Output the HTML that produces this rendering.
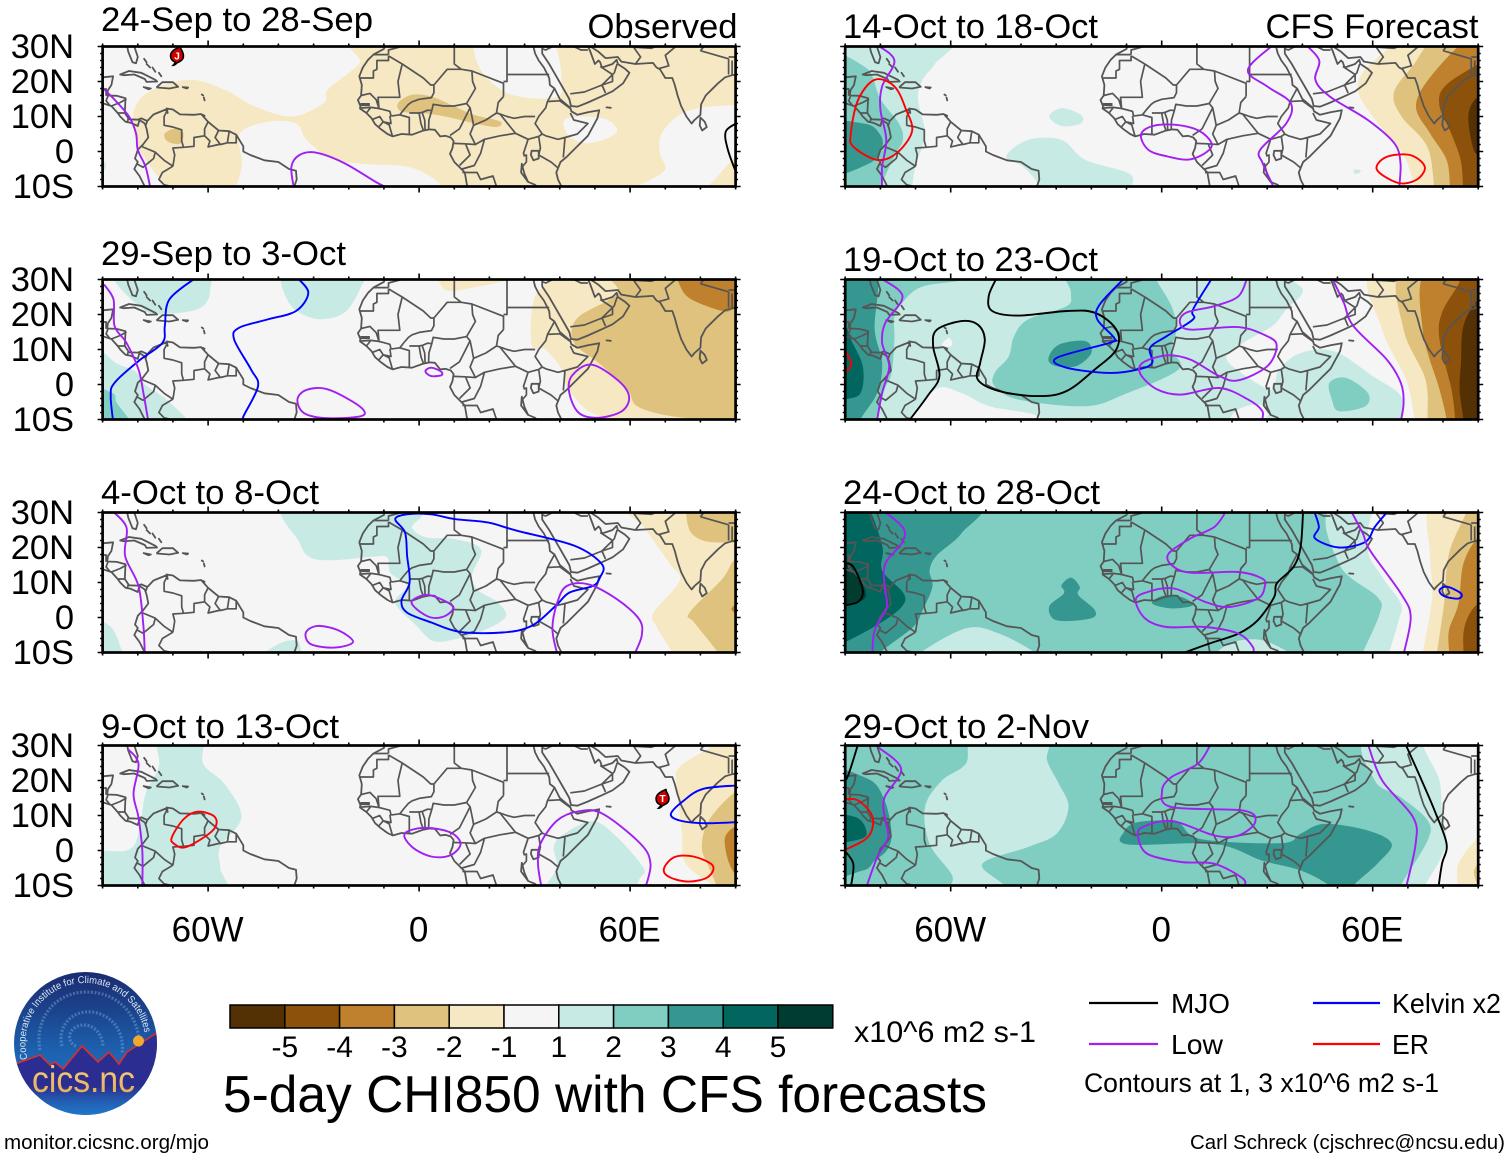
<!DOCTYPE html>
<html lang="en">
<head>
<meta charset="utf-8">
<title>5-day CHI850 with CFS forecasts</title>
<style>
html,body{margin:0;padding:0;background:#fff;}
svg{display:block;font-family:"Liberation Sans",Arial,sans-serif;}
</style>
</head>
<body>
<svg id="chart" xmlns="http://www.w3.org/2000/svg" width="1510" height="1159" viewBox="0 0 1510 1159">
  <rect x="0" y="0" width="1510" height="1159" fill="#ffffff"/>
  <g id="panels"></g>
  <g id="colorbar"></g>

  <text x="854" y="1042" font-size="30" textLength="182" lengthAdjust="spacingAndGlyphs">x10^6 m2 s-1</text>
  <text x="223" y="1112" font-size="52" textLength="764" lengthAdjust="spacingAndGlyphs">5-day CHI850 with CFS forecasts</text>

  <g>
    <line x1="1089" x2="1158" y1="1003" y2="1003" stroke="#000000" stroke-width="2.2"/>
    <text x="1171" y="1013" font-size="28" textLength="59" lengthAdjust="spacingAndGlyphs">MJO</text>
    <line x1="1313" x2="1380" y1="1003" y2="1003" stroke="#0000ff" stroke-width="2.2"/>
    <text x="1392" y="1013" font-size="28" textLength="109" lengthAdjust="spacingAndGlyphs">Kelvin x2</text>
    <line x1="1089" x2="1158" y1="1044" y2="1044" stroke="#a020f0" stroke-width="2.2"/>
    <text x="1171" y="1054" font-size="28" textLength="52" lengthAdjust="spacingAndGlyphs">Low</text>
    <line x1="1313" x2="1380" y1="1044" y2="1044" stroke="#ff0000" stroke-width="2.2"/>
    <text x="1392" y="1054" font-size="28" textLength="37" lengthAdjust="spacingAndGlyphs">ER</text>
    <text x="1084" y="1092" font-size="27" textLength="355" lengthAdjust="spacingAndGlyphs">Contours at 1, 3 x10^6 m2 s-1</text>
  </g>

  <text x="4" y="1149" font-size="20.5" textLength="205" lengthAdjust="spacingAndGlyphs">monitor.cicsnc.org/mjo</text>
  <text x="1190" y="1149" font-size="20.5" textLength="315" lengthAdjust="spacingAndGlyphs">Carl Schreck (cjschrec@ncsu.edu)</text>

  <g>
    <defs>
      <linearGradient id="logoSky" x1="0" y1="0" x2="0" y2="1">
        <stop offset="0" stop-color="#1b2a6e"/>
        <stop offset="0.3" stop-color="#1c4690"/>
        <stop offset="0.55" stop-color="#1d62b0"/>
        <stop offset="1" stop-color="#1f7fd0"/>
      </linearGradient>
      <linearGradient id="logoLand" x1="0" y1="0" x2="0" y2="1">
        <stop offset="0" stop-color="#2b2e90"/>
        <stop offset="0.62" stop-color="#2b2e90"/>
        <stop offset="0.8" stop-color="#2360b4"/>
        <stop offset="1" stop-color="#1f7fd0"/>
      </linearGradient>
      <linearGradient id="logoWord" x1="0" y1="0" x2="0" y2="1">
        <stop offset="0" stop-color="#f4d484"/>
        <stop offset="1" stop-color="#e8a850"/>
      </linearGradient>
      <clipPath id="logoClip"><circle cx="85.5" cy="1043.5" r="71.5"/></clipPath>
      <path id="logoArc" d="M 27.6 1059 A 60 60 0 1 1 144.7 1033.7"/>
    </defs>
    <g clip-path="url(#logoClip)">
      <rect x="10" y="970" width="150" height="150" fill="url(#logoSky)"/>
      <path d="M76 1046c-8-3-9-14 0-19 11-6 26 2 27 19M62 1046c-5-20 10-36 30-34 22 3 33 22 30 42M40 1050c-6-30 14-58 47-58 30 0 50 22 52 48" fill="none" stroke="#7fb2e2" stroke-width="3.2" stroke-dasharray="2 1.6" opacity="0.42"/>
      <polygon points="10,1066 18,1063 40,1055 50,1065 55,1062 63,1069 82,1046 98,1062 109,1052 119,1064 127,1052 155,1034 162,1030 162,1120 10,1120" fill="url(#logoLand)"/>
      <polyline points="10,1066 18,1063 40,1055 50,1065 55,1062 63,1069 82,1046 98,1062 109,1052 119,1064 127,1052 155,1034 162,1030" fill="none" stroke="#d9302c" stroke-width="1.6"/>
      <circle cx="138.5" cy="1041" r="5.5" fill="#f0a830"/>
    </g>
    <text font-size="10" fill="#d8e8f4"><textPath href="#logoArc" textLength="194" lengthAdjust="spacingAndGlyphs">Cooperative Institute for Climate and Satellites</textPath></text>
    <text x="32" y="1092" font-size="37" fill="url(#logoWord)" textLength="103" lengthAdjust="spacingAndGlyphs">cics.nc</text>
  </g>

<script>
/* ---------- axis configuration ---------- */
const lonRange = [-90, 90];
const latRange = [-10, 30];
const xTicks = [-60, 0, 60];
const xTickLabels = ['60W', '0', '60E'];
const yTicks = [30, 20, 10, 0, -10];
const yTickLabels = ['30N', '20N', '10N', '0', '10S'];

/* ---------- colour bar ---------- */
const barLevels = [-5, -4, -3, -2, -1, 0, 1, 2, 3, 4, 5];
const barColors = ['#543005', '#8c510a', '#bf812d', '#dfc27d', '#f6e8c3', '#f5f5f5', '#c7eae5', '#80cdc1', '#35978f', '#01665e', '#003c30'];
const barTickLabels = ['-5', '-4', '-3', '-2', '-1', '1', '2', '3', '4', '5'];

/* ---------- line colours by wave type ---------- */
const waveColors = { mjo: '#000000', kelvin: '#0000ff', low: '#a020f0', er: '#ff0000' };

/* ---------- geography (lon,lat pairs) ---------- */
const coastlines = [
  [-83,30,-82.7,28.5,-81.5,25.5,-80.5,25.2,-80,27,-81,30],
  [-85,22,-82.5,23,-79,22.5,-75,20.5,-74.5,20,-77.5,19.9,-78,20.7,-81,22,-84,21.8,-85,22],
  [-74.5,18.5,-73,19.8,-70,19.8,-68.5,18.5,-71,18,-74.5,18.3,-74.5,18.5],
  [-78.3,18.4,-76.3,18,-77,17.8,-78.3,18.4],
  [-67.2,18.4,-65.7,18.3,-66,18,-67.2,18.4],
  [-78.2,26.5,-77.5,25.5],[-77.5,25,-76.5,24],[-75.8,24,-75,22.8],[-74,22.5,-73.3,21.5],
  [-61.8,16.3,-61.4,16],[-61.2,15.4,-61,14.6],[-61.5,10.5,-61,10.2],
  [-90,21.2,-87,21.5,-87.5,19,-88.5,17.5,-88.7,16,-86,15.9,-83.5,15.2,-83.7,11,-82.5,9.2,-80,9.1,-79,9.5,-77.3,8.7,-75.5,10.6,-74.5,11,-72,12,-71.5,11,-71.8,12.3,-70,12,-68,10.6,-64,10.5,-62,10.7,-60,8.5,-57,6,-54,5.8,-52,4.8,-50,1.5,-50,0,-48,-1,-44,-2.5,-40,-3,-37,-5,-35,-5.5,-34.8,-8,-35.5,-10],
  [-90,13.8,-87.5,13,-85.7,11,-85,10,-83.5,8.5,-82,8.2,-80,7.3,-79.5,9,-78,8,-77.5,6.5,-77,4,-78.5,2,-80,0.5,-80.8,-2,-80,-3,-81,-5,-79.5,-7,-78.5,-9,-78,-10],
  [-9.8,30,-10,29.3,-13,27.7,-14.5,26.2,-16,24,-17,21.5,-16.3,19,-16.5,16,-17.4,14.7,-16.7,13,-16.8,12.3,-15,11,-13.5,9.5,-12.5,7.8,-11,6.5,-9,5,-7.5,4.3,-5,5,-2,4.8,1,5.9,3,6.3,4.5,6.2,6,4.3,7.5,4.5,9,4,9.8,3,9.5,1,8.8,-0.7,10,-3,12,-5,13,-6,13.5,-9,13.7,-10],
  [32.5,30,33,28,34,26,35.5,24,37,21,37.2,19,38.5,18,40,15,43,12.5,43.3,11.5,45,10.5,48,11.2,51.2,11.8,50.7,9.5,48,4.5,45.5,2,42,-1.5,40.2,-3,39,-6,39.5,-8,40.5,-10],
  [35,29.5,35,28,37,25,39,21.5,41,18,42.7,15,43.2,13,45,12.8,48,14,52,15.8,55,17.2,58,19.5,59.8,22.5,58.5,23.7,56.5,25,56.2,26.2,55,25,52,24,51.5,25.5,51,26,50,25,48.5,29,48,30],
  [48.7,30,51,28.5,53,26.7,56.5,27,57.5,25.7,61.5,25,66.5,25.3,67.5,24,68.5,23.5,70,21,72,21,72.7,19,73.5,16,74.5,13,76,10,77.5,8,78.3,9,80,10.5,80.2,13.5,81.5,16,85,19.5,87,21.2,89,21.8,90,22],
  [80,9.7,81.2,8.5,81.8,7,80.5,6,79.8,7.5,80,9.7],
  [53.3,12.6,54.5,12.5],
  [32,0.2,34,0.2,34,-2,32.5,-2.5,31.8,-1,32,0.2],
  [29.2,-3.5,30,-6.5,31,-8.7,29,-6,29.2,-3.5]
];
const borders = [
  [-87.8,13,-89,14.5,-88.5,15.8],[-85.7,11,-83.7,11],[-83,8.2,-82.7,9.5],[-90,17.8,-89,17.9,-89,15.9],[-87.5,13,-85,14,-83.2,15],[-77.3,8.7,-77.8,7.3],
  [-71.5,12,-72.5,10,-72.5,7.5,-70,7,-67.5,6.2,-67.5,3,-67,1.2],[-67,1.2,-70,1,-69.5,-1,-70,-4.2],[-70,-4.2,-72.5,-2.5,-75,-0.2,-78.8,1.4],[-75,-0.2,-75.5,-2,-78.5,-4.5,-80.3,-3.5],[-70,-4.2,-73,-6,-74,-8,-72.5,-9.5,-70.5,-10],[-67,1.2,-64,1.5,-64,4,-61,4.5],[-60,8.5,-61,6.5,-61,4.5],[-61,4.5,-59.5,3,-60,1.3,-57,2,-56.5,2],[-57,6,-58,4,-56.5,2],[-54,5.8,-54.5,2.5],[-56.5,2,-54.5,2.5,-52,2.5,-52,4.8],
  [-13,27.7,-8.7,27.7],[-8.7,27.7,-8.7,29,-5,30],[-17,21,-13,21,-13,23,-12,23.5,-12,26,-8.7,26,-8.7,27.3],[-8.7,27.3,-4.8,25,1.2,21,3.3,19,4.2,19,4.2,16.8,3.5,15.4,0,14.9,-2,14.2,-3,13.5,-4.3,12,-5.5,10.5,-7.5,10.2,-8,10.2,-8.3,11.5,-11.4,12.3,-11.7,15.5,-9,15.5,-5.5,15.5,-6,20,-4.8,25],
  [-16.5,16,-14,16.6,-12.2,14.8,-11.4,12.3,-13.7,12.6,-16.8,12.4],[-16.7,13.6,-14,13.6],[-16.7,13.2,-14,13.2],[-15,11,-13.7,12.6],[-13.2,9.2,-11.2,10,-10.2,8.5,-8,8,-8.3,10.2],[-11.5,7,-10.2,8.5,-8.5,7.6,-7.6,4.4],[-5.5,10.5,-2.8,9.7,-2.8,5],[-2.8,11,0,11,1,11.2,2.4,11.8,3.6,11.7],[0,11,0.5,8,1.2,6.1],[0.9,11,1.6,9,1.7,6.2],[3.6,11.7,2.8,9,2.7,6.4],
  [4.2,19,8,23.5,12,23.5,15,23,15.2,20,16,18,13.5,13.7,10,13,7,13,4,13.5,3.6,11.7],[12,23.5,10,25,10,30],[15,23,24,19.5,24,15.7],[25,30,25,22],[25,22,37,22],[24,20,25,20,25,22],[24,15.7,22.5,14,22,11,19,9,15.5,7.5,15,10,14.5,12.5,13.5,13.7],[14.5,12.5,13.5,10.5,11.5,6.5,8.8,4.6],[15.5,7.5,14.5,5,16,2,13,2.2,9.8,2.3],[15.5,7.5,19,9,22,11,23,10.7,27.4,5.2,23,4.5,18.6,3.5,16,2],[18.6,3.5,17.5,-0.5,15.7,-4,12.2,-5],[9.8,2.3,13.2,2.2,14.5,-1,11.5,-4],[12.3,-6,16.5,-6,17.5,-8,21,-7,22,-10],
  [27.4,5.2,31,3.5,34,4.3,35,5,33,8,34,10,36,12.5,36.5,14.3,38.5,18],[23,10.7,25,10,27,9.5,30,10,33,10],[36.5,14.3,40,14.5,43,12.3],[43,11,44,9,48,8,45,5,41.5,4],[41.5,4,39.5,3.5,36,4.5,35,5],[41.5,4,41,-1.7],[34,4.3,34.5,1,34,-1],[34,-1,37.5,-3,39.5,-4.7],[31,3.5,29.7,-0.5,30,-1.3],[29.7,-1.3,30.5,-1,30.5,-3,29.2,-4.5],[31,-8.7,33,-9.5,34.5,-11],
  [34.9,29.4,36,29,38,30],[43,16.5,47,17,52,19,55,20,55,22,51.5,24.3],[56.3,25,55.5,22.5,52,19],[52,19,53,16.7],[42,31,46,29,48,29],[61.5,25,63,27,61,29.8],[68.2,23.7,71,24.5,70,27.5,73,30],[80,28.8,88,26.5],[88,26.5,88,22],[81,30,80,28.8],[61,29.8,66,29.5,70,31],[88,27,90,27],[89,21.8,89,26]
];

/* ---------- panel 1: 24-Sep to 28-Sep ---------- */
const panel1Fills = [
  [-1,[-10,33,-17,25,-26,17.6,-27,14,-36,10,-47,13,-55,17.5,-65,20.5,-76,17.5,-81,12,-80.5,3,-77,-3.5,-72,-10,-70,-13,-55,-13,-50.5,-4.5,-51,5,-43,8.5,-35,8,-32,3.3,-25,-2,-16,-3.5,-3.5,-4.3,3,-7,6.5,-10,8,-13,96,-13,96,33]],
  [0,[58,-12,65,-8.5,70,-5,68.5,-0.5,69,5.2,75,11,85,13,96,12,96,2,90,-1.5,81.5,-10.5,75,-14]],
  [0,[17.5,33,17,24.3,25,16.7,37.3,15.2,40.6,18.6,36.5,33]],
  [0,[42,9.5,52.3,9.5,56.3,6.2,53.6,3.8,47,2.4,42,5.2]],
  [1,[-91,-2,-89,-4,-91,-7]],
  [-2,[-6,13.8,-2,16.2,3.5,15.7,10,12.9,15.5,10.5,23,8.6,22,7,15.5,8.1,7.5,10,0.7,11,-5,11.4]],
  [-2,[-72.3,5.2,-69,6.7,-67,5.2,-68,2.2,-71.6,2.9]]
];
const panel1Lines = [
  ['low',[-89.6,17.8,-86.6,14.8,-82.5,10,-80.5,5.2,-80,0.5,-77.8,-4.3,-76.4,-10.5],0],
  ['low',[-35.6,-10.5,-36.3,-4.3,-34,-1,-29.4,-0.3,-21.3,-3.3,-11.8,-9,-8.4,-10.5],0],
  ['mjo',[90.5,8.2,87.2,5.7,87.8,0.5,90.5,-7],0]
];
const panel1Storms = [['J',-68.85,27.3]];

/* ---------- panel 2: 29-Sep to 3-Oct ---------- */
const panel2Fills = [
  [1,[-87,33,-78.4,21.4,-70.3,20.3,-62,22,-59.4,27,-62,33]],
  [1,[-96,12,-86,6,-81,4,-78,0,-75,-2,-71,-5,-65,-11,-64,-14,-96,-14]],
  [2,[-96,-0.5,-87.3,-2.4,-86,-5.2,-82,-10.5,-80,-14,-96,-14]],
  [1,[-37.6,33,-37,23.3,-29.5,18.8,-21.3,20.5,-16.5,28,-16,33]],
  [-1,[7.2,33,7.5,27,17,28,25,30,27,33]],
  [-1,[37,33,36.5,29.5,32.5,23.8,32,11.4,35.9,10,40.6,4.3,42,-0.5,47.4,-7.1,53.5,-10,58,-14,96,-14,96,33]],
  [-2,[56,33,56.5,26,45,19,44,12,51,6.2,59.2,-1.4,62,-6.2,71.4,-9,85,-10.5,96,-14,96,33]],
  [-3,[72,33,73.4,30,76.7,24.8,86.2,21,90,21.6,96,22,96,33]]
];
const panel2Lines = [
  ['kelvin',[-63.5,30.5,-71,24.3,-72.3,16.7,-73,11.9,-79.8,6.7,-86.6,0.5,-87.7,-3.3,-87,-10.5],0],
  ['kelvin',[-34.6,30.5,-31.5,26.2,-35,21,-43,18.6,-51.2,16.2,-52.6,12.9,-47.8,4.3,-45.8,-0.5,-49.9,-9,-50,-10.5],0],
  ['low',[-89.6,28.6,-86.9,24.3,-86.6,16.7,-83.2,11.9,-79.8,4.3,-78.4,-2.4,-77,-10.5],0],
  ['low',[-34.6,-4.3,-32.2,-1.6,-26.7,-1.2,-19.9,-4.3,-15.6,-7.6,-17.2,-9.2,-26.7,-9.6,-32.8,-8.1],1],
  ['low',[1.8,3.8,3.4,4.8,6.1,3.8,6.4,2.7,3.4,2.4],1],
  ['low',[42.7,-2.4,43.4,2.4,48.8,5.7,56.3,1.4,59.7,-3.3,57.7,-7.6,50.8,-9.5,45.4,-8.1],1]
];
const panel2Storms = [];

/* ---------- panel 3: 4-Oct to 8-Oct ---------- */
const panel3Fills = [
  [1,[-37.5,33,-34,21.4,-30.8,17.1,-24,16.4,-13,17.4,-9,17.1,-8.2,12.8,-3.5,9,-6.8,4.2,-0.7,-2.4,4,-6.7,10.2,-6.2,17,-4.3,24.5,0,22.4,4.3,17,7.6,15,11.9,17.6,19.5,10.2,22.4,2,22.9,-2,25.7,0.7,29,0.7,33]],
  [1,[-96,-0.5,-88,-2.4,-84.5,-9.5,-83,-14,-96,-14]],
  [1,[-44,-11,-40,-7.6,-36,-6.5,-34,-7.6,-34.5,-12]],
  [-1,[59,33,64,25.7,71.4,15.2,74.1,10.5,66.7,1.4,67.4,-2.4,72,-10,74,-14,96,-14,96,33]],
  [-2,[78.2,33,76.6,25.7,81,21.9,90,21.4,96,21,96,33]],
  [-2,[96,17,90,16.7,86.2,11,76.9,1.4,78.2,-1.4,84.9,-10,86,-14,96,-14]],
  [-3,[91,4.3,88.8,2.4,91,1]]
];
const panel3Lines = [
  ['kelvin',[-6.8,28.1,-3.4,29.5,3.4,29.5,10.2,28.1,19.7,27.1,27.8,24.8,44.2,20.5,52,15.2,51.4,11.4,49.4,9,42.7,7.1,38.8,3.3,32,-2.4,23.7,-4.3,11.6,-4.1,3.4,-1.4,-3.4,1.4,-5,4.8,-2.7,10,-3.4,17.6,-4,24.3],1],
  ['low',[-87.3,30.5,-83.2,25.7,-83.6,17.6,-79.8,9,-78.4,-2.4,-78,-10.5],0],
  ['low',[-2,4.8,2.7,6.4,9.5,3.3,7.5,0.5,3.4,0,-0.7,2.4],1],
  ['low',[-32.2,-4.3,-28.8,-2.4,-22.7,-3.8,-18.8,-7,-24,-8.6,-30.8,-7.6],1],
  ['low',[39.3,-10.5,37.9,-3.3,39.3,4.3,42,9,48.1,9.5,56.3,5.2,62.6,-0.5,63.3,-5.2,61.2,-10.5],0]
];
const panel3Storms = [];

/* ---------- panel 4: 9-Oct to 13-Oct ---------- */
const panel4Fills = [
  [1,[-74,33,-74,24,-77.8,16.2,-79.8,4.8,-83.2,0,-96,-1.1,-96,-14,-57,-14,-56.6,-4.8,-56.6,1,-50.5,9.5,-55.3,19,-61.4,24.8,-62,33]],
  [1,[38.3,1,41.3,4.8,49.5,8.4,56.3,3.8,63.7,-4.8,63,-7.6,58,-12,37,-12,39.3,-4.8]],
  [-1,[83.4,33,83.4,30,74,23.8,73.3,18.1,74.8,4.8,75.3,-2.9,80,-7.6,83.5,-10,85,-14,96,-14,96,33]],
  [-2,[96,17,90,16.7,82.4,8.6,80.4,1,82.4,-4.8,84.5,-10,85,-14,96,-14]],
  [-3,[91,6.2,87,3.8,88.2,-3.8,91,-6.7]]
];
const panel4Lines = [
  ['low',[-82.8,29,-79.8,24.8,-81.2,16.2,-79.8,9.5,-78.7,0,-78.7,-10.5],0],
  ['low',[-4.1,4.8,1.4,6.5,8.8,5.2,11.8,1.9,8.8,-1.4,3.4,-1.7,-2,1],1],
  ['low',[34.8,-10.5,33.8,-3.8,34.5,1.9,39.3,8.6,45.4,11.2,52.2,10.5,63,1.9,65.8,-3.8,64.4,-10.5],0],
  ['er',[-70.3,3.8,-66.9,9,-62.8,11.1,-58,9.5,-58.7,5.7,-66.2,1,-69.6,1.9],1],
  ['er',[69.6,-5.2,72.6,-1.9,78,-1.7,83.5,-4.3,82.1,-7.6,76.7,-8.9,71.2,-7.6],1],
  ['kelvin',[90.5,18.6,80.7,17.6,75.3,14.3,71.6,10.5,74,8.6,80.7,7.8,90.5,8.1],0]
];
const panel4Storms = [['T',69.2,14.8]];

/* ---------- panel 5: 14-Oct to 18-Oct ---------- */
const panel5Fills = [
  [1,[-96,33,-60,33,-64.5,25,-68,20.5,-69.3,14.8,-67.3,5,-70,-4,-71,-10,-72,-14,-96,-14]],
  [2,[-96,25,-84.2,24,-80,15,-74.7,8,-73.6,3.3,-76,-1.4,-80,-10,-81,-14,-96,-14]],
  [3,[-96,7.6,-84.3,7.9,-80.2,5,-79.5,1.4,-83,-3.3,-96,-6.7]],
  [1,[-32,10,-28.5,12.4,-23,10.5,-23,8,-28.5,7.3]],
  [1,[-44.2,-1.4,-38,3.3,-28.5,3.3,-21.7,-2.4,-9.4,-6.2,-8.3,-10,-8,-14,-35,-14,-34.7,-10,-39.4,-4.3]],
  [1,[54.8,-5.2,56.6,-5.4,56,-6.2,54.8,-6.2]],
  [-1,[64.7,33,64.7,30,57,22.4,56,16.7,60,10,67,1.4,69.5,-2.4,72,-10,73,-14,96,-14,96,33]],
  [-2,[79,33,71.3,24.3,66,16.7,68.2,10,75.5,1.4,77.5,-10,78,-14,96,-14,96,33]],
  [-3,[88,33,76.5,21.4,72.3,12.9,76.3,5.2,81,-2.4,82,-10,82.5,-14,96,-14,96,33]],
  [-4,[96,28,90,25,80.5,18.6,79,12.9,82.3,5.2,85,-2.4,85.7,-10,86,-14,96,-14]],
  [-5,[96,18,90,15.7,87.3,11,88,3.3,90,-1.4,96,-4]]
];
const panel5Lines = [
  ['low',[-81,30.5,-76,26,-79.5,18.6,-80,12,-78.3,3.3,-79.5,-4.3,-79.5,-10.5],0],
  ['low',[-5.9,4.8,-2.5,7.3,4.3,7.6,11,5.7,14.2,1.4,8.4,-2.2,1.6,-1.4,-3.8,0.5],1],
  ['low',[31.7,30.5,24.5,23.3,30,18.6,36.7,13.8,35.4,8,28,0.5,28.7,-3.3,32,-10.5],0],
  ['low',[41,30.5,44.8,26,43.7,20.5,47.8,15.7,58.6,9,66.1,2.4,67.9,-3.3,67.5,-10.5],0],
  ['er',[-81.6,20.5,-76,18.6,-72.7,12,-71,5.7,-75.4,-0.5,-81,-2.4,-87.7,1.4,-88.4,5.2,-86.3,14.8],1],
  ['er',[61.2,-5.2,63.8,-1.6,70.6,-1,74.8,-4.3,72.6,-8,67.3,-9],1]
];
const panel5Storms = [];

/* ---------- panel 6: 19-Oct to 23-Oct ---------- */
const panel6Fills = [
  [0,[37.5,33,40.2,26.7,35.4,21.4,31.4,16.7,23.2,11.9,18.4,7.6,23.2,2.9,30,-1.2,32,-0.5,33.4,4.3,39.5,9,49,9.5,60,2.4,68,-3.3,68.4,-10.5,68,-14,80,-14,80,33]],
  [0,[-72,-10,-64,-1.2,-57,-2.4,-49,-6.2,-35.3,-9,-34.6,-14,-73,-14]],
  [0,[21.8,-7.1,27.3,-5.7,30.7,-7.6,29.3,-10.5,29,-14,19,-14,19,-10.5]],
  [0,[-62.5,11.4,-60.5,13.3,-59.5,11.4,-61,10.8]],
  [2,[-96,33,-55.7,33,-55.7,30,-68,28,-73.4,23.8,-76,19.5,-76,12.9,-76.8,3.3,-78.8,-1.4,-81,-10,-82,-14,-96,-14]],
  [2,[-25.8,33,-25.8,26.2,-27,22.4,-38,18.6,-42,13.8,-43.5,8,-47.5,3.3,-47.5,-0.5,-40.7,-4.3,-21.7,-6.2,-10.8,-2.9,4.8,4.3,2.8,10,4.2,15.7,2.8,22.4,-1.5,30,-1.5,33]],
  [2,[47.7,0.5,52.4,1.9,58.6,-2.4,57.9,-6.2,50.4,-7.6,48.4,-4.3]],
  [3,[-96,33,-81.6,33,-81.6,15.7,-79.5,6.2,-80.9,-2.4,-85.6,-10,-86,-14,-96,-14]],
  [4,[-96,20,-90,16.7,-88.4,12.9,-85,5.2,-85.6,-2.4,-90,-4.3,-96,-6]],
  [3,[-32.2,7.6,-29.2,11.4,-21.7,12.4,-20,9,-24.4,5.2,-30.5,5.4]],
  [-1,[60.6,33,62.7,15.7,69.5,1.4,72,-10,73,-14,96,-14,96,33]],
  [-2,[68.8,33,68.8,15.7,75,1.4,75.6,-10,76,-14,96,-14,96,33]],
  [-3,[75.6,33,74.2,15.7,79,-1.4,81,-10,81,-14,96,-14,96,33]],
  [-4,[86,33,84.4,28.6,79.7,20.5,79,12.9,82.4,-1.4,83.5,-10,84,-14,96,-14,96,33]],
  [-5,[96,28,90,24.3,85.8,16.7,85.1,6.2,84.7,-1.4,85.8,-10,86,-14,96,-14]]
];
const panel6Lines = [
  ['mjo',[-46.9,30.5,-49.2,25.2,-48.2,21,-40.7,19.7,-27,21,-19,20.5,-12.9,15.7,-12.9,10,-19,4.3,-27.1,-1.9,-35.3,-3.3,-46.2,-1.9,-52.3,1.4,-51.6,6.2,-50.3,12.9,-52.3,17.1,-57,18.1,-63.9,15.7,-65,11,-63.2,2.4,-66.6,-3.3,-72,-10.5],0],
  ['kelvin',[-10.5,30.5,-17.6,22.9,-18.3,18.6,-13.5,13.3,-14.9,11.9,-29.9,7.6,-27.1,4.8,-14.9,3.3,-6.7,4.3,-2.7,6.2,-3.3,10.5,1.4,13.8,8.9,18.6,8.9,21.4,14.4,30.5],0],
  ['low',[-80.2,30.5,-74.8,27,-74,23.8,-78.6,17.6,-79.5,11.9,-77.5,5.2,-79.5,-2.4,-81,-10.5],0],
  ['low',[24.3,30.5,21.8,25.2,15,22.4,6.9,20.5,5.2,17.6,8.2,15.7,21.8,16.4,30,13.8,32.7,11,30,5.2,21.8,1.2,16.4,2.4,8.2,7.1,1.4,8.3,-5.4,6.2,-6,2.9,-1.3,-1.4,5.5,-2.9,16.4,-1,24.6,-4.3,28.6,-7.6,28.4,-10.5],0],
  ['low',[48.4,30.5,51.8,23.3,54.5,16.7,64,7.1,68,0.5,68.8,-5.2,68,-10.5],0],
  ['er',[-90.5,10.5,-88.4,6.7,-88.6,5,-90.5,3],0]
];
const panel6Storms = [];

/* ---------- panel 7: 24-Oct to 28-Oct ---------- */
const panel7Fills = [
  [1,[50.4,33,50.4,15.4,61.3,5.9,62,1.1,57.2,-10,56,-14,96,-14,96,33]],
  [0,[64,33,58.6,20.2,62.7,11.6,68,4,67.4,-0.8,64.7,-10,64,-14,96,-14,96,33]],
  [-1,[77,33,76.3,18,77,8,76.3,1,74.3,-10,74,-14,96,-14,96,33]],
  [-2,[87,33,86.6,30,81.7,18.3,80.3,4,78.3,-10,78,-14,96,-14,96,33]],
  [-3,[96,28,90,23,85.8,15.4,84.4,4,81.7,-3.6,81.7,-10,81.5,-14,96,-14]],
  [-4,[96,7,90,4,87.1,0.2,85.8,-4.6,85.8,-10,85.5,-14,96,-14]],
  [1,[-69.3,-10.5,-55.7,-3.1,-46.2,-4.6,-35.3,-10.5,-33,-14,-71,-14]],
  [1,[15,-10.5,20.5,-7,28.6,-6.5,36.8,-10.5,38,-14,13,-14]],
  [3,[-96,33,-53,33,-57,24,-63.9,17.8,-66,13.5,-65.2,8.8,-68,2.1,-70.7,-2.7,-80,-10,-82,-14,-96,-14]],
  [4,[-96,33,-85,33,-79.5,20.7,-79.5,13.5,-73.4,6.9,-74,3,-80.2,-1.7,-90,-7,-96,-9]],
  [5,[-96,16,-90,15.4,-87.7,13.5,-84.3,7.8,-85,5,-90,3.5,-96,3]],
  [3,[-28.5,9.2,-25.8,11.4,-23.3,8.8,-23.7,6.4,-19,2.1,-20.3,-0.3,-29.9,-0.8,-32,3.1,-27.8,6.9]],
  [3,[-2.7,4,0,6.1,5.5,5.9,8.9,3.5,2.8,2.6]]
];
const panel7Lines = [
  ['mjo',[40.2,30.5,39.5,20.2,37.5,14.5,32.7,9.7,32,5.9,27.3,-0.8,21.8,-4.6,13.7,-7.4,5.2,-10.5],0],
  ['mjo',[-90.5,15.6,-87.7,14.5,-85,7.8,-86.3,4.5,-90.5,3.4],0],
  ['kelvin',[43.3,30.5,44.7,25.9,43.6,22.6,50.4,20,57.9,21.6,60.6,25.9,64,30],0],
  ['kelvin',[79,7.8,81.1,8.8,85.1,6.9,84.4,5.4,80.3,6.1],1],
  ['low',[-79.1,30.5,-73.4,25.4,-74,21.1,-78.6,15.4,-78.8,8.8,-78.2,3,-81.6,-3.6,-82.3,-10.5],0],
  ['low',[18.4,30.5,15,25.9,8.2,22.6,2,18.3,2.8,15,8.2,12.8,21.8,13,28.6,11.1,29.3,8.8,27.3,5.4,19.1,3,12.3,4.5,3.5,8.3,-4,7.3,-7.4,5,-4.7,-0.3,1.4,-2.7,12.3,-2.7,21.8,-4.6,25.9,-8.4,25.9,-10.5],0],
  ['low',[53.8,30.5,57.2,24,59.2,19.2,68,6.9,70.8,0.2,68.8,-10.5],0]
];
const panel7Storms = [];

/* ---------- panel 8: 29-Oct to 2-Nov ---------- */
const panel8Fills = [
  [1,[-53,33,-55.7,24.8,-62.5,20,-67.3,12.4,-66,1.9,-59.8,-6.7,-59.8,-10,-59.5,-14,-44,-14,-44.8,-10,-51,-3.8,-38,1,-29.9,4.8,-26.5,12.4,-29.2,19,-32.6,25.7,-33.3,33]],
  [1,[59.3,33,60.6,20,68,15.2,75.6,8.6,75.6,2.9,68,-10,67,-14,96,-14,96,33]],
  [0,[74.9,33,79,20,79.7,10.5,81,2.9,79,-2.9,74.9,-10,74,-14,96,-14,96,33]],
  [-1,[96,7,90,3.8,84.4,-3.8,84.2,-10,84,-14,96,-14]],
  [-2,[92,-1.9,88.8,-5.7,89.8,-10,90,-14,96,-14,96,-2]],
  [3,[-96,21.4,-83.6,20.5,-78.8,14.3,-76.8,4.8,-78.2,0,-81.6,-2.9,-85,-5.7,-96,-5.7]],
  [4,[-96,10,-87,9.5,-84,5.7,-85.6,3.3,-96,2.4]],
  [3,[-10.8,5.2,-6.7,8.1,4.2,8.1,11,3.3,34,2.1,39.5,4.8,46.3,7.6,58.6,5.7,65.4,1.9,61.3,-3.8,54.5,-10,53,-13,49,-13,47.7,-10,39.5,-5.7,28.6,-2.9,15,1.9,-9.5,1.7]]
];
const panel8Lines = [
  ['mjo',[-86.3,30.5,-89,21.9,-90.5,19],0],
  ['mjo',[-90.5,0.3,-87.7,-3.8,-88.4,-10.5],0],
  ['mjo',[69.5,30,73.5,21,77.6,11.4,81,1.9,79.7,-3.8,78.7,-10.5],0],
  ['er',[-90.5,14.6,-86.3,14.3,-82.2,9.5,-83.6,3.8,-90.5,0],0],
  ['low',[-80.6,29.5,-74.1,23.3,-78.8,15.2,-78.8,9.5,-77.8,3.8,-80.9,-1.9,-84,-10.5],0],
  ['low',[14,30.5,10.3,24.8,2.8,21,0.1,17.1,2.8,12.4,23.2,11.4,26.6,8.1,21.8,4.3,15,4.3,3,8.4,-5.4,6.7,-6.7,3.8,-4,-1,5.5,-3.3,15,-3.8,23.2,-8.1,23.2,-10.5],0],
  ['low',[58.6,30.5,62.7,20,71.5,9.5,72.2,1.9,69.5,-10.5],0]
];
const panel8Storms = [];

/* ---------- panel layout ---------- */
const panelLefts = [102.6, 845.2];
const titleLefts = [101, 843];
const panelTops = [46.5, 279.5, 512.5, 745.5];
const panelWidth = 633;
const panelHeight = 140;
const panels = [
  {title:'24-Sep to 28-Sep',col:0,row:0,base:0,baseline:31,tw:272,fills:panel1Fills,lines:panel1Lines,storms:panel1Storms},
  {title:'29-Sep to 3-Oct',col:0,row:1,base:0,baseline:265,tw:245,fills:panel2Fills,lines:panel2Lines,storms:panel2Storms},
  {title:'4-Oct to 8-Oct',col:0,row:2,base:0,baseline:504,tw:218,fills:panel3Fills,lines:panel3Lines,storms:panel3Storms},
  {title:'9-Oct to 13-Oct',col:0,row:3,base:0,baseline:738,tw:238,fills:panel4Fills,lines:panel4Lines,storms:panel4Storms},
  {title:'14-Oct to 18-Oct',col:1,row:0,base:0,baseline:38,tw:255,fills:panel5Fills,lines:panel5Lines,storms:panel5Storms},
  {title:'19-Oct to 23-Oct',col:1,row:1,base:1,baseline:271,tw:255,fills:panel6Fills,lines:panel6Lines,storms:panel6Storms},
  {title:'24-Oct to 28-Oct',col:1,row:2,base:2,baseline:504,tw:257,fills:panel7Fills,lines:panel7Lines,storms:panel7Storms},
  {title:'29-Oct to 2-Nov',col:1,row:3,base:2,baseline:738,tw:246,fills:panel8Fills,lines:panel8Lines,storms:panel8Storms}
];

/* ---------- helpers ---------- */
const NS = 'http://www.w3.org/2000/svg';
function node(tag, attrs, parent){
  const el = document.createElementNS(NS, tag);
  for (const k in attrs) el.setAttribute(k, attrs[k]);
  parent.appendChild(el);
  return el;
}
function xAxis(x0){ return lon => x0 + (lon - lonRange[0]) * panelWidth / (lonRange[1] - lonRange[0]); }
function yAxis(y0){ return lat => y0 + (latRange[1] - lat) * panelHeight / (latRange[1] - latRange[0]); }
function levelColor(level){ return barColors[barLevels.indexOf(level)]; }
function toPoints(flat, X, Y){
  const pts = [];
  for (let i = 0; i < flat.length; i += 2) pts.push([X(flat[i]), Y(flat[i + 1])]);
  return pts;
}
function smoothPath(flat, closed, X, Y){
  const p = toPoints(flat, X, Y), n = p.length;
  const at = i => closed ? p[(i + n) % n] : p[Math.max(0, Math.min(n - 1, i))];
  let d = 'M' + p[0][0].toFixed(1) + ' ' + p[0][1].toFixed(1);
  const segs = closed ? n : n - 1;
  for (let i = 0; i < segs; i++){
    const a = at(i - 1), b = at(i), c = at(i + 1), e = at(i + 2);
    d += 'C' + (b[0] + (c[0] - a[0]) / 6).toFixed(1) + ' ' + (b[1] + (c[1] - a[1]) / 6).toFixed(1) + ' ' +
         (c[0] - (e[0] - b[0]) / 6).toFixed(1) + ' ' + (c[1] - (e[1] - b[1]) / 6).toFixed(1) + ' ' +
         c[0].toFixed(1) + ' ' + c[1].toFixed(1);
  }
  return d + (closed ? 'Z' : '');
}
function polyPath(list, X, Y){
  let d = '';
  list.forEach(flat => {
    toPoints(flat, X, Y).forEach((q, i) => { d += (i ? 'L' : 'M') + q[0].toFixed(1) + ' ' + q[1].toFixed(1); });
  });
  return d;
}

/* ---------- draw panels ---------- */
const root = document.getElementById('panels');
panels.forEach((p, index) => {
  const x0 = panelLefts[p.col], y0 = panelTops[p.row];
  const X = xAxis(x0), Y = yAxis(y0);
  const x1 = x0 + panelWidth, y1 = y0 + panelHeight;

  const g = node('g', {}, root);
  
  

  const clip = node('clipPath', {id: 'clip' + index}, g);
  node('rect', {x: x0, y: y0, width: panelWidth, height: panelHeight}, clip);

  const inner = node('g', {'clip-path': 'url(#clip' + index + ')'}, g);
  
  

  const bg = node('rect', {x: x0, y: y0, width: panelWidth, height: panelHeight, fill: levelColor(p.base)}, inner);
  
  

  p.fills.forEach(f => {
    const el = node('path', {d: smoothPath(f[1], true, X, Y), fill: levelColor(f[0])}, inner);
    
    
  });

  const coast = node('path', {d: polyPath(coastlines, X, Y), fill: 'none', stroke: '#555555', 'stroke-width': 1.8, 'stroke-linejoin': 'round', 'stroke-linecap': 'round'}, inner);
  
  

  const bord = node('path', {d: polyPath(borders, X, Y), fill: 'none', stroke: '#555555', 'stroke-width': 1.7, 'stroke-linejoin': 'round'}, inner);
  
  

  p.lines.forEach(l => {
    const el = node('path', {d: smoothPath(l[1], !!l[2], X, Y), fill: 'none', stroke: waveColors[l[0]], 'stroke-width': 1.9}, inner);
    
    
  });

  p.storms.forEach(s => {
    const sx = X(s[1]), sy = Y(s[2]);
    const sg = node('g', {transform: 'translate(' + sx.toFixed(1) + ' ' + sy.toFixed(1) + ')'}, inner);
    
    
    node('path', {d: 'M4 -9.5C2 -8 6.5 -5 6.5 0C6.5 5 1.5 6 0 7C-1 8 -2 9.5 -4 9.5C-2.5 8 -1.5 6.5 -2 6C-5 5 -6.5 3 -6.5 0C-6.5 -5 -1 -7.5 4 -9.5Z', fill: '#cc0000', stroke: '#000000', 'stroke-width': 1.5}, sg);
    const st = node('text', {x: 0, y: 3.5, 'font-size': 10, 'font-weight': 'bold', fill: '#ffffff', 'text-anchor': 'middle'}, sg);
    st.textContent = s[0];
  });

  /* frame and ticks */
  const frame = node('rect', {x: x0, y: y0, width: panelWidth, height: panelHeight, fill: 'none', stroke: '#000000', 'stroke-width': 2.7}, g);
  
  

  let tickD = '';
  for (let lon = lonRange[0]; lon <= lonRange[1]; lon += 10){
    const len = xTicks.includes(lon) ? 6 : 3;
    tickD += 'M' + X(lon).toFixed(1) + ' ' + y0 + 'v' + (-len) + 'M' + X(lon).toFixed(1) + ' ' + y1 + 'v' + len;
  }
  for (let lat = latRange[0]; lat <= latRange[1]; lat += 2){
    const len = yTicks.includes(lat) ? 5 : 2.5;
    tickD += 'M' + x0 + ' ' + Y(lat).toFixed(1) + 'h' + (-len) + 'M' + x1 + ' ' + Y(lat).toFixed(1) + 'h' + len;
  }
  const ticks = node('path', {d: tickD, stroke: '#000000', 'stroke-width': 1.6, fill: 'none'}, g);
  
  

  /* title */
  const title = node('text', {x: titleLefts[p.col], y: p.baseline, 'font-size': 34.6, textLength: p.tw, lengthAdjust: 'spacingAndGlyphs'}, g);
  
  
  title.textContent = p.title;

  /* latitude labels on left column */
  if (p.col === 0){
    yTicks.forEach((lat, i) => {
      const t = node('text', {x: 74, y: (Y(lat) + 11.5).toFixed(1), 'font-size': 34.5, 'text-anchor': 'end'}, g);
      
      
      t.textContent = yTickLabels[i];
    });
  }
  /* longitude labels on bottom row */
  if (p.row === panelTops.length - 1){
    xTicks.forEach((lon, i) => {
      const t = node('text', {x: (X(lon) - 0.5).toFixed(1), y: 941.5, 'font-size': 35, 'text-anchor': 'middle'}, g);
      
      
      t.textContent = xTickLabels[i];
    });
  }
});

/* panel-column headings */
const headObserved = node('text', {x: 737.5, y: 38, 'font-size': 34.6, 'text-anchor': 'end', textLength: 150, lengthAdjust: 'spacingAndGlyphs'}, root);


headObserved.textContent = 'Observed';
const headForecast = node('text', {x: 1478.5, y: 38, 'font-size': 34.6, 'text-anchor': 'end', textLength: 213, lengthAdjust: 'spacingAndGlyphs'}, root);


headForecast.textContent = 'CFS Forecast';

/* ---------- draw colour bar ---------- */
const barRoot = document.getElementById('colorbar');
const barLeft = 230, barStep = 54.8, barTop = 1005, barHeight = 23;
function barX(i){ return barLeft + i * barStep; }
barColors.forEach((c, i) => {
  const r = node('rect', {x: barX(i), y: barTop, width: barStep, height: barHeight, fill: c, stroke: '#000000', 'stroke-width': 1.5}, barRoot);
  
  
});
barTickLabels.forEach((label, i) => {
  const t = node('text', {x: barX(i + 1), y: 1057, 'font-size': 30, 'text-anchor': 'middle'}, barRoot);
  
  
  t.textContent = label;
});
</script>
</svg>
</body>
</html>
